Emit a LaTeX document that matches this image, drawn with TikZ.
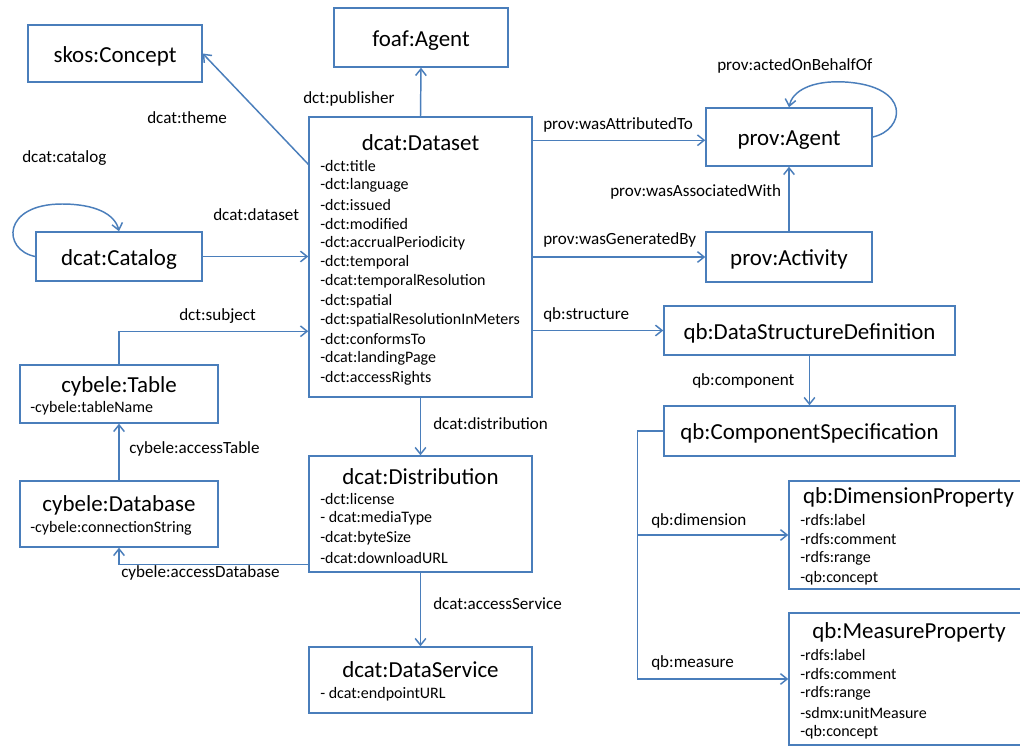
\documentclass[tikz,border=0pt]{standalone}
\usepackage{fontspec}
\setmainfont{Carlito}
\usetikzlibrary{arrows.meta,calc}
\definecolor{ln}{HTML}{4A7EBB}
\begin{document}
\begin{tikzpicture}[x=0.75pt,y=-0.75pt,
  box/.style={draw=ln, line width=1.1pt, rectangle, inner sep=0pt},
  ttl/.style={font=\fontsize{17.2}{20}\selectfont, inner sep=0pt, text=black},
  sbox/.style={box, ttl, text height=14.5pt, text depth=1.3pt},
  attr/.style={font=\fontsize{12}{14}\selectfont, anchor=west, inner sep=0pt, text=black},
  lbl/.style={font=\fontsize{12.8}{15}\selectfont, anchor=west, inner sep=0pt, text=black},
  arr/.style={draw=ln, line width=1.1pt, -{Straight Barb[length=5pt,width=8pt]}}]
\useasboundingbox (0,0) rectangle (1020,747);
\clip (0,0) rectangle (1020,747);
\fill[white] (0,0) rectangle (1020,747);

% simple boxes
\node[sbox, minimum width=130.5pt, minimum height=42.75pt] (skos) at (115,53.5) {skos:Concept};
\node[sbox, minimum width=130.5pt, minimum height=44.25pt] (foaf) at (421,37.5) {foaf:Agent};
\node[sbox, minimum width=124.5pt, minimum height=36.75pt] (catalog) at (119,256.5) {dcat:Catalog};
\node[sbox, minimum width=124.5pt, minimum height=43.5pt] (provAgent) at (789,137) {prov:Agent};
\node[sbox, minimum width=124.5pt, minimum height=37.5pt] (provActivity) at (789,257) {prov:Activity};
\node[sbox, minimum width=218.25pt, minimum height=36.75pt] (dsd) at (809.5,330.5) {qb:DataStructureDefinition};
\node[sbox, minimum width=218.25pt, minimum height=37.5pt] (compspec) at (809.5,431) {qb:ComponentSpecification};

% boxes with attributes
\node[box, minimum width=167.25pt, minimum height=210pt] (dataset) at (420.5,257) {};
\node[ttl] (datasetT) at (420.5,143) {dcat:Dataset};
\foreach \t [count=\i] in {-dct:title,-dct:language,-dct:issued,-dct:modified,-dct:accrualPeriodicity,-dct:temporal,-dcat:temporalResolution,-dct:spatial,-dct:spatialResolutionInMeters,-dct:conformsTo,-dcat:landingPage,-dct:accessRights}
  \node[attr] (dsa\i) at (320,{166+19.27*(\i-1)}) {\t};

\node[box, minimum width=167.25pt, minimum height=87pt] (distribution) at (420.5,514) {};
\node[ttl] (distributionT) at (420.5,477) {dcat:Distribution};
\foreach \t [count=\i] in {-dct:license,- dcat:mediaType,-dcat:byteSize,-dcat:downloadURL}
  \node[attr] (dia\i) at (320,{499+19.6*(\i-1)}) {\t};

\node[box, minimum width=167.25pt, minimum height=49.5pt] (dataservice) at (420.5,680) {};
\node[ttl] (dataserviceT) at (420.5,670) {dcat:DataService};
\node[attr] (dsva1) at (320,694) {- dcat:endpointURL};

\node[box, minimum width=148.5pt, minimum height=43.5pt] (table) at (119,394) {};
\node[ttl] (tableT) at (119,386) {cybele:Table};
\node[attr] (ta1) at (30,408) {-cybele:tableName};

\node[box, minimum width=148.5pt, minimum height=49.5pt] (database) at (119,514) {};
\node[ttl] (databaseT) at (119,505) {cybele:Database};
\node[attr] (dba1) at (30,528) {-cybele:connectionString};

\node[box, minimum width=180.75pt, minimum height=81pt] (dimprop) at (909.5,535) {};
\node[ttl] (dimpropT) at (908.5,497) {qb:DimensionProperty};
\foreach \t [count=\i] in {-rdfs:label,-rdfs:comment,-rdfs:range,-qb:concept}
  \node[attr] (dpa\i) at (800,{520+19.3*(\i-1)}) {\t};

\node[box, minimum width=180.75pt, minimum height=99pt] (measprop) at (909.5,679) {};
\node[ttl] (measpropT) at (909,632) {qb:MeasureProperty};
\foreach \t [count=\i] in {-rdfs:label,-rdfs:comment,-rdfs:range,-sdmx:unitMeasure,-qb:concept}
  \node[attr] (mpa\i) at (800,{655+19.3*(\i-1)}) {\t};

% connectors
\draw[arr] ($(dataset.north west)+(0,48)$) -- (skos.east);
\draw[arr] (dataset.north) -- (foaf.south);
\draw[arr] (catalog.east) -- (catalog.east -| dataset.west);
\draw[arr] ($(dataset.north east)+(0,24)$) -- ($(provAgent.north west)+(0,33)$);
\draw[arr] (dataset.east |- provActivity.west) -- (provActivity.west);
\draw[arr] (provActivity.north) -- (provAgent.south);
\draw[arr] (dataset.east |- dsd.west) -- (dsd.west);
\draw[arr] (dsd.south) -- (compspec.north);
\draw[arr] (compspec.west) -- ++(-26,0) |- (dimprop.west);
\draw[arr] (compspec.west) -- ++(-26,0) |- (measprop.west);
\draw[arr] (dataset.south) -- (distribution.north);
\draw[arr] (distribution.south) -- (dataservice.north);
\draw[arr] ($(distribution.south west)+(0,-8)$) -| (database.south);
\draw[arr] (database.north) -- (table.south);
\draw[arr] (table.north) |- ($(dataset.north west)+(0,215)$);
\draw[arr] (catalog.west) .. controls (2,250) and (2,204) .. (62,204) .. controls (95,204) and (115,214) .. (catalog.north);
\draw[arr] (provAgent.east) .. controls (905,130) and (912,86) .. (845,82) .. controls (810,80) and (792,92) .. (provAgent.north);

% labels
\node[lbl] (lcatalog) at (22,158) {dcat:catalog};
\node[lbl] (ltheme) at (147,118) {dcat:theme};
\node[lbl] (lpublisher) at (303,99) {dct:publisher};
\node[lbl] (ldataset) at (213,215) {dcat:dataset};
\node[lbl] (lattr) at (543,125) {prov:wasAttributedTo};
\node[lbl] (lgen) at (543,240) {prov:wasGeneratedBy};
\node[lbl] (lassoc) at (610,192) {prov:wasAssociatedWith};
\node[lbl] (lacted) at (717,66) {prov:actedOnBehalfOf};
\node[lbl] (lstruct) at (543,315) {qb:structure};
\node[lbl] (lcomp) at (692,381) {qb:component};
\node[lbl] (ldim) at (651,521) {qb:dimension};
\node[lbl] (lmeas) at (651,663) {qb:measure};
\node[lbl] (lsubject) at (179,316) {dct:subject};
\node[lbl] (ltable) at (129,449) {cybele:accessTable};
\node[lbl] (ldistr) at (433,424) {dcat:distribution};
\node[lbl] (ldb) at (121,573) {cybele:accessDatabase};
\node[lbl] (lserv) at (433,604) {dcat:accessService};
\end{tikzpicture}
\end{document}
